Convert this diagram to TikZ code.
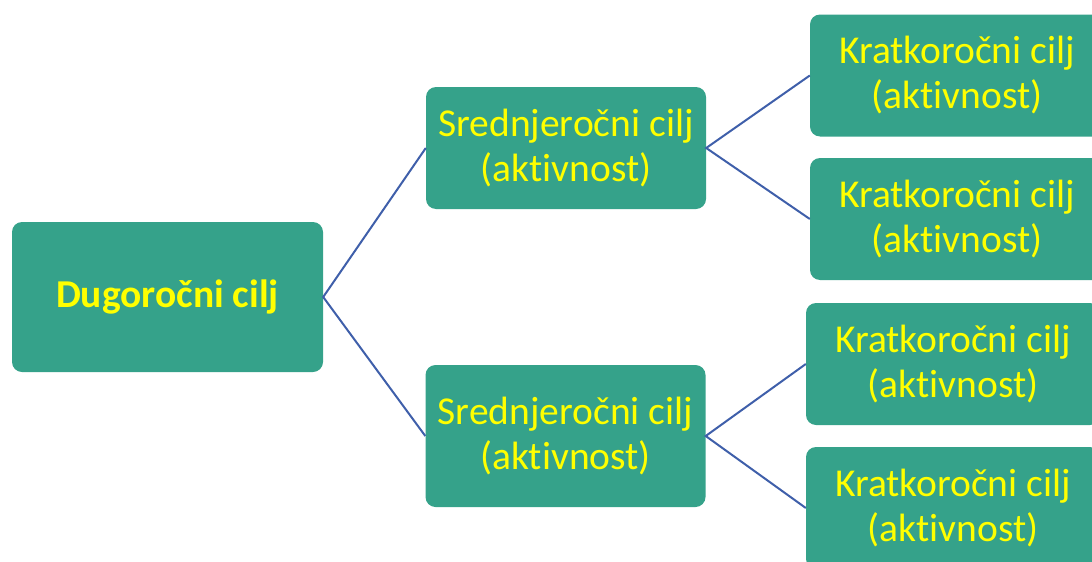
\documentclass[tikz,border=0pt]{standalone}
\usepackage{fontspec}
\setmainfont{Carlito}[Ligatures=NoCommon]
\definecolor{goalfill}{HTML}{35A28A}
\definecolor{goaltext}{HTML}{FFFF00}
\definecolor{linkblue}{HTML}{3F5FAA}
\tikzset{
  goal/.style={fill=goalfill, rounded corners=10pt, text=goaltext, align=center,
    inner sep=0pt, font=\fontsize{39.5}{45}\selectfont},
  midgoal/.style={goal, minimum width=280pt, minimum height=122pt},
  shortgoal/.style={goal, minimum width=294pt, minimum height=122pt},
  link/.style={draw=linkblue, line width=2pt}
}
\begin{document}
\begin{tikzpicture}[x=1pt,y=-1pt]
	\useasboundingbox (0,0) rectangle (1092,562);

	% dugorocni
	\node[goal, minimum width=311pt, minimum height=150pt,
	  font=\fontsize{39.5}{45}\selectfont\bfseries] (dugo) at (167.5,297) {Dugoročni cilj};

	% srednjerocni
	\node[midgoal] (sred1) at (566,148) {Srednjeročni cilj\\(aktivnost)};
	\node[midgoal, minimum height=142pt] (sred2) at (565.5,436) {Srednjeročni cilj\\(aktivnost)};

	% kratkorocni
	\node[shortgoal] (krat1) at (957,75.5) {Kratkoročni cilj\\(aktivnost)};
	\node[shortgoal] (krat2) at (957,219) {Kratkoročni cilj\\(aktivnost)};
	\node[shortgoal] (krat3) at (953,364) {Kratkoročni cilj\\(aktivnost)};
	\node[shortgoal] (krat4) at (953,508) {Kratkoročni cilj\\(aktivnost)};

	\draw[link] (sred1.west) -- (dugo.east) -- (sred2.west);
	\draw[link] (krat1.west) -- (sred1.east) -- (krat2.west);
	\draw[link] (krat3.west) -- (sred2.east) -- (krat4.west);
\end{tikzpicture}
\end{document}
